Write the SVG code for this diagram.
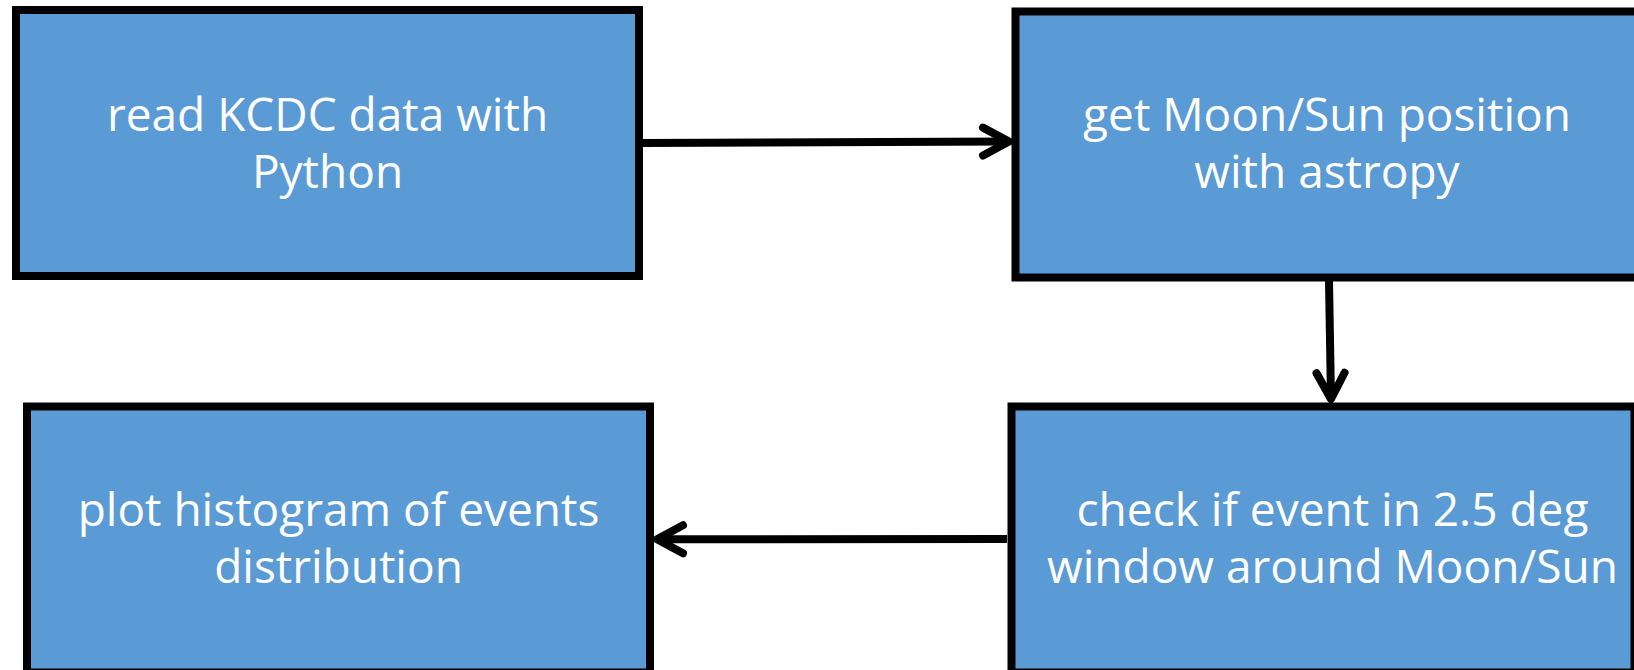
<svg xmlns="http://www.w3.org/2000/svg" width="1634" height="670" viewBox="0 0 1634 670">
<style>
.box{fill:#5B9BD5;stroke:#000;stroke-width:8}
.lbl{font-family:"Open Sans","Noto Sans","DejaVu Sans",sans-serif;font-size:46px;fill:#fff;text-anchor:middle}
.conn{fill:none;stroke:#000;stroke-width:8;marker-end:url(#ah)}
</style>
<defs>
<marker id="ah" markerUnits="userSpaceOnUse" markerWidth="40" markerHeight="40" viewBox="-35 -20 40 40" refX="0" refY="0" orient="auto" overflow="visible">
<path d="M-26,-14 L0,0 L-26,14" fill="none" stroke="#000" stroke-width="8" stroke-linecap="round" stroke-linejoin="round"/>
</marker>
</defs>
<rect width="1634" height="670" fill="#fff"/>
<g id="node-read">
<rect class="box" x="16" y="10" width="623" height="266"/>
<text class="lbl" x="327.5" y="131">read KCDC data with</text>
<text class="lbl" x="327.5" y="188">Python</text>
</g>
<g id="node-get">
<rect class="box" x="1015.5" y="11.5" width="623" height="266"/>
<text class="lbl" x="1327" y="131">get Moon/Sun position</text>
<text class="lbl" x="1327" y="188">with astropy</text>
</g>
<g id="node-check">
<rect class="box" x="1011.5" y="406.5" width="623" height="266"/>
<text class="lbl" x="1332.5" y="526">check if event in 2.5 deg</text>
<text class="lbl" x="1332.5" y="583">window around Moon/Sun</text>
</g>
<g id="node-plot">
<rect class="box" x="27" y="406.5" width="623" height="266"/>
<text class="lbl" x="338.5" y="526">plot histogram of events</text>
<text class="lbl" x="338.5" y="583">distribution</text>
</g>
<g id="connectors">
<path class="conn" d="M643,143 L1009,141.5"/>
<path class="conn" d="M1329,281 L1331,399"/>
<path class="conn" d="M1007,539 L657,539.3"/>
</g>
</svg>
